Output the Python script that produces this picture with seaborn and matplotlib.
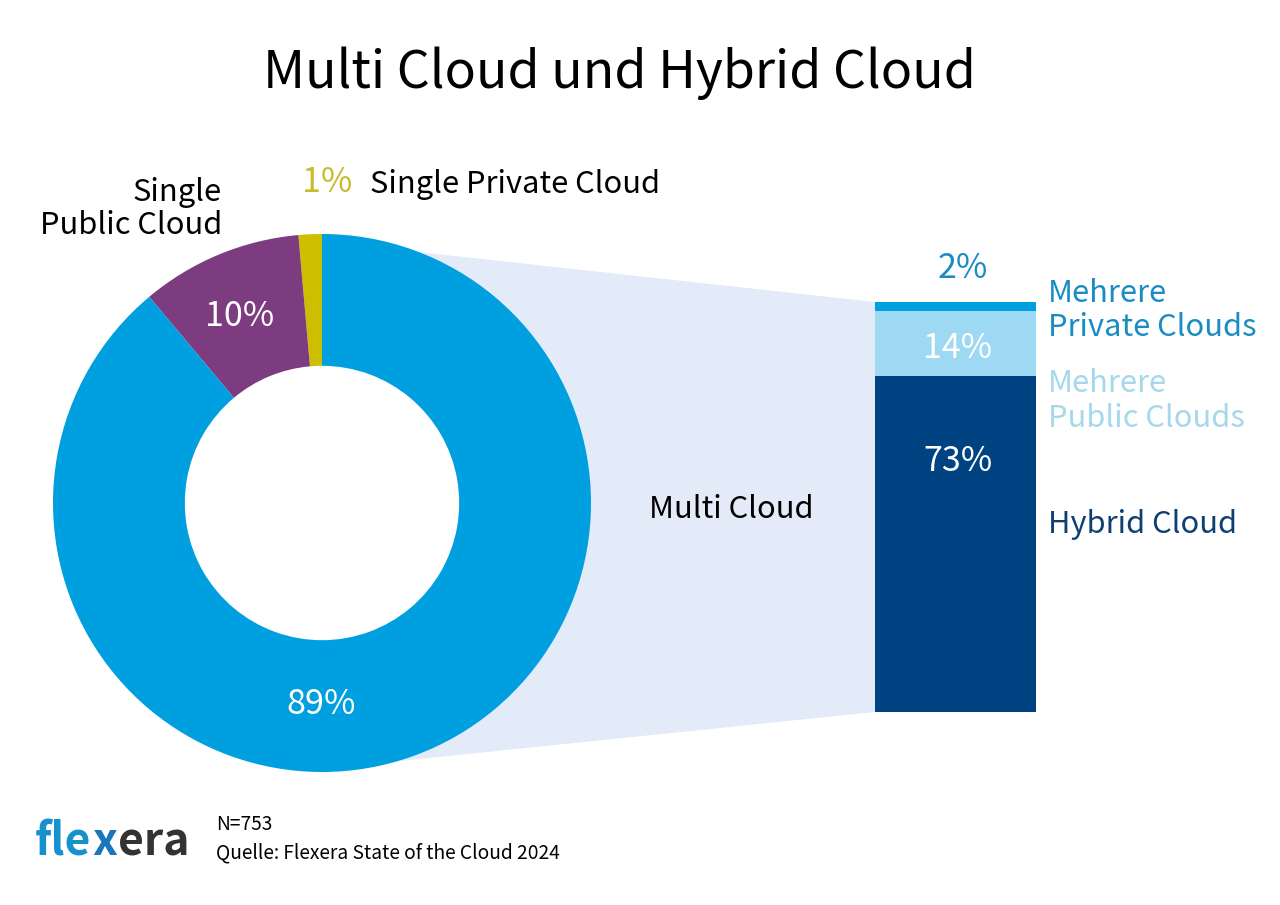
import matplotlib
matplotlib.use("Agg")
import matplotlib.pyplot as plt
import seaborn as sns
import pandas as pd
from matplotlib.patches import Polygon

# overall split
donut_labels = ["Single Private Cloud", "Single Public Cloud", "Multi Cloud"]
donut_values = [1.4, 9.7, 88.9]
donut_colors = ["#CDBF00", "#7D3C80", "#009FDF"]

# breakdown of multi cloud, bottom to top
bar_labels = ["Hybrid Cloud", "Mehrere Public Clouds", "Mehrere Private Clouds"]
bar_values = [73, 14, 2]
bar_colors = ["#004382", "#9DD9F3", "#009FDF"]

W, H = 1280, 905

sns.set_theme(style="white")
plt.rcParams["font.family"] = ["Noto Sans CJK JP", "DejaVu Sans"]

fig = plt.figure(figsize=(W / 100, H / 100), dpi=100, facecolor="white")


def box(x0, y0, x1, y1):
    # pixel box (y from the top) to figure fractions
    return [x0 / W, 1 - y1 / H, (x1 - x0) / W, (y1 - y0) / H]


def label(x, y, s, size, color="black", ha="left", **kw):
    return fig.text(x / W, 1 - y / H, s, fontsize=size, color=color, ha=ha, va="center", **kw)


# connector behind donut and bar, its left side stays under the ring
corners = [(400, 250), (875, 302), (875, 712), (400, 761), (500, 503)]
fig.add_artist(Polygon([(x / W, 1 - y / H) for x, y in corners], closed=True,
                       transform=fig.transFigure, facecolor="#E3EBF8", edgecolor="none", zorder=0))

# donut
ax = fig.add_axes(box(53, 234, 591, 772), zorder=1)
ax.patch.set_alpha(0)
ax.pie(donut_values, colors=donut_colors, startangle=90, radius=1,
       wedgeprops={"width": 0.49, "linewidth": 0})
ax.set_xlim(-1, 1)
ax.set_ylim(-1, 1)

# stacked bar, tallest layer first so the smaller ones sit on top
df = pd.DataFrame({"group": "Multi Cloud", "part": bar_labels, "value": bar_values})
df["top"] = df["value"].cumsum()
bx = fig.add_axes(box(875, 302, 1036, 712), zorder=1)
for i in reversed(range(len(df))):
    sns.barplot(data=df.iloc[[i]], x="group", y="top", color=bar_colors[i],
                saturation=1, width=1, linewidth=0, ax=bx)
bx.set_xlim(-0.5, 0.5)
bx.set_ylim(0, df["top"].max())
bx.axis("off")

# titles and labels
label(619, 73, "Multi Cloud und Hybrid Cloud", 37.3, ha="center")

label(222, 192, "Single", 22.2, ha="right")
label(222, 225, "Public Cloud", 22.2, ha="right")
label(327, 183, "1%", 24.5, color="#C9BC2A", ha="center")
label(370, 185, "Single Private Cloud", 22.2)
label(240, 317, "10%", 24.5, color="white", ha="center", zorder=5)
label(321, 704, "89%", 24.5, color="white", ha="center", zorder=5)
label(731, 509, "Multi Cloud", 22.2, ha="center")

label(963, 268, "2%", 24.5, color="#1A8CC3", ha="center")
label(958, 348, "14%", 24.5, color="white", ha="center", zorder=5)
label(958, 461, "73%", 24.5, color="white", ha="center", zorder=5)
label(1048, 294, "Mehrere", 22.2, color="#1A8CC3")
label(1048, 328, "Private Clouds", 22.2, color="#1A8CC3")
label(1048, 384, "Mehrere", 22.2, color="#A6D8EC")
label(1048, 418, "Public Clouds", 22.2, color="#A6D8EC")
label(1048, 524, "Hybrid Cloud", 22.2, color="#0E3F73")

# footer
logo_parts = [("fle", "#1591CE"), ("x", "#1B75BB"), ("era", "#333333")]
logo_x = 35
renderer = fig.canvas.get_renderer()
for s, c in logo_parts:
    t = label(logo_x, 842, s, 32, color=c, fontweight="bold")
    logo_x = t.get_window_extent(renderer).x1 + 1
label(216, 824, "N=753", 13.8)
label(216, 853, "Quelle: Flexera State of the Cloud 2024", 13.8)

fig.savefig("out.png", dpi=100, facecolor="white")
